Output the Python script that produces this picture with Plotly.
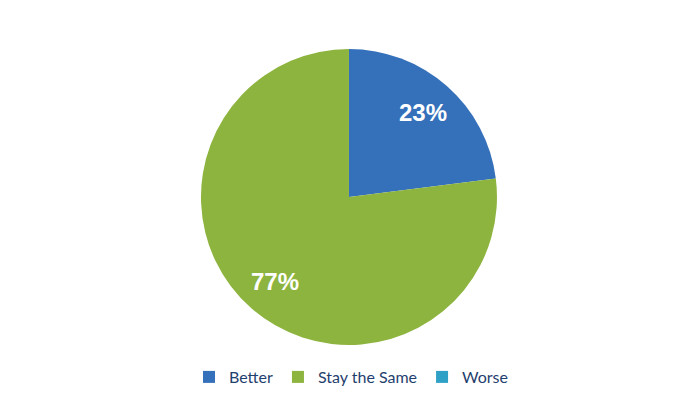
import math
import plotly.graph_objects as go

labels = ["Better", "Stay the Same", "Worse"]
values = [23, 77, 0]
colors = ["#3570BA", "#8DB43E", "#2FA0C6"]

W, H = 700, 400
dom_x = [0.2756, 0.6986]
dom_y = [0.1575, 0.8975]

fig = go.Figure(go.Pie(
    labels=labels,
    values=values,
    sort=False,
    direction="clockwise",
    rotation=0,
    marker=dict(colors=colors, line=dict(width=0)),
    textinfo="none",
    domain=dict(x=dom_x, y=dom_y),
    hoverinfo="label+percent",
))

# percentage labels placed at the slice mid-angles (computed from values)
cx = (dom_x[0] + dom_x[1]) / 2
cy = (dom_y[0] + dom_y[1]) / 2
r_px = min((dom_x[1] - dom_x[0]) * W, (dom_y[1] - dom_y[0]) * H) / 2
total = sum(values)
cum = 0
for lab, v in zip(labels, values):
    if v > 0:
        mid = (cum + v / 2) / total * 2 * math.pi
        f = 0.76
        fig.add_annotation(
            x=cx + f * r_px * math.sin(mid) / W,
            y=cy + f * r_px * math.cos(mid) / H,
            xref="paper", yref="paper", showarrow=False,
            xanchor="center", yanchor="middle",
            text=f"{round(v / total * 100)}%",
            font=dict(family="Liberation Sans, Arial, sans-serif", size=24, color="white", weight="bold"),
        )
    cum += v

fig.update_layout(
    width=W, height=H,
    margin=dict(l=0, r=0, t=0, b=0),
    paper_bgcolor="white",
    plot_bgcolor="white",
    showlegend=True,
    legend=dict(
        orientation="h", x=0.49, xanchor="center", y=0.0775, yanchor="middle",
        font=dict(family="Lato, Noto Sans, sans-serif", size=16, color="#1F3F6E"),
        itemwidth=30, traceorder="normal",
    ),
)

fig.write_html("out.html")
